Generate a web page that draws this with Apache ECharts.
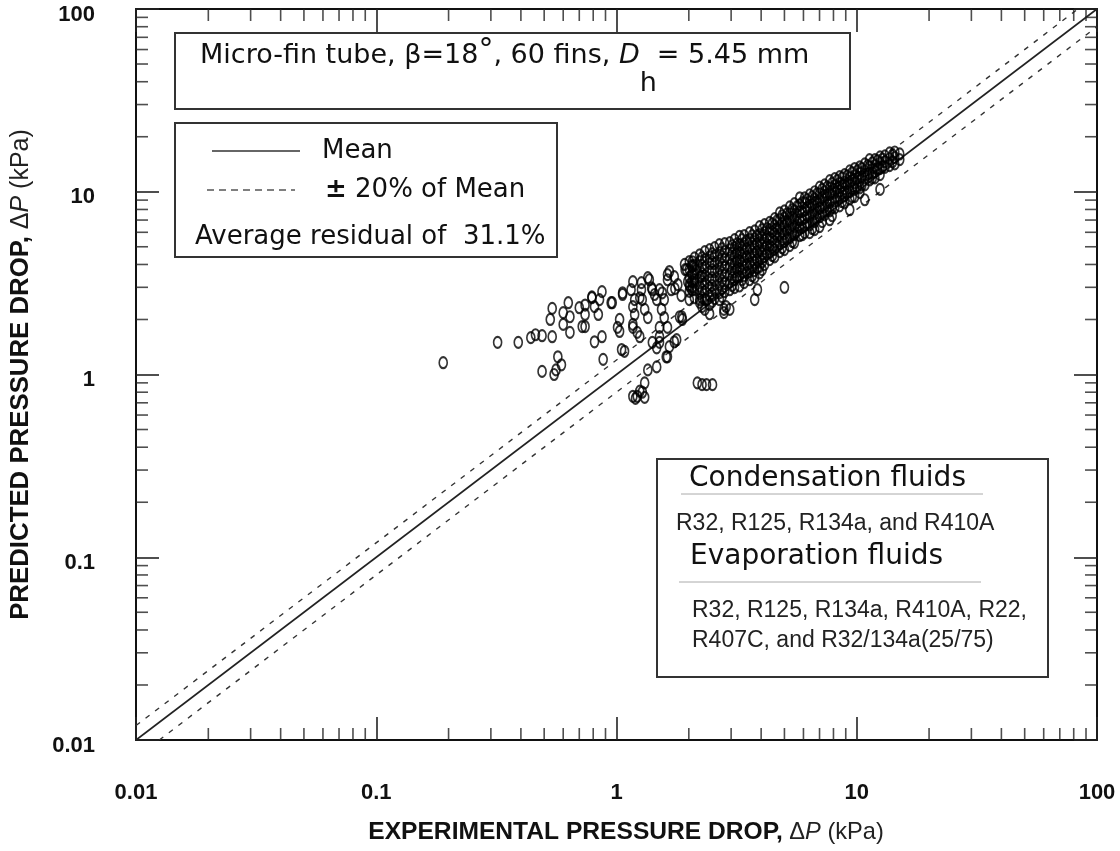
<!DOCTYPE html>
<html>
<head>
<meta charset="utf-8">
<script src="https://cdn.jsdelivr.net/npm/echarts@6/dist/echarts.min.js"></script>
<style>
  html, body { margin: 0; padding: 0; background: #fff; }
  #chart { width: 1120px; height: 851px; }
</style>
</head>
<body>
<div id="chart"></div>
<script>
// axis
const tickLabels = ['0.01', '0.1', '1', '10', '100']
const minorTickValues = [
  0.02, 0.03, 0.04, 0.05, 0.06, 0.07, 0.08, 0.09,
  0.2, 0.3, 0.4, 0.5, 0.6, 0.7, 0.8, 0.9,
  2, 3, 4, 5, 6, 7, 8, 9,
  20, 30, 40, 50, 60, 70, 80, 90
]

// reference lines (mean and +-20%)
const meanLine = [[0.01, 0.01], [100, 100]]
const upperLine = [[0.01, 0.012], [83.3, 100]]
const lowerLine = [[0.0125, 0.01], [100, 80]]

// scattered points [experimental, predicted] kPa
const sparsePoints = [
  [0.19, 1.16], [0.32, 1.5], [0.39, 1.5], [0.44, 1.59], [0.46, 1.65], [0.49, 1.63], [0.54, 1.61],
  [0.54, 2.3], [0.53, 2.0], [0.60, 2.18], [0.63, 2.47], [0.64, 2.07], [0.70, 2.32], [0.74, 2.4],
  [0.72, 1.83], [0.64, 1.7], [0.60, 1.88], [0.57, 1.25], [0.59, 1.13], [0.49, 1.04], [0.55, 1.0], [0.56, 1.06],
  [0.74, 2.13], [0.74, 1.83], [0.79, 2.63], [0.81, 2.35], [0.84, 2.13], [0.87, 2.84], [0.85, 2.57],
  [0.95, 2.47], [0.81, 1.51], [0.87, 1.61], [0.88, 1.21],
  [1.03, 2.0], [1.01, 1.81], [1.03, 1.72], [1.05, 1.37], [1.06, 2.74], [1.08, 1.34], [1.15, 2.91],
  [1.17, 3.22], [1.19, 2.57], [1.17, 2.35], [1.19, 2.13], [1.17, 1.88], [1.22, 1.7], [1.17, 1.81],
  [1.27, 2.91], [1.28, 2.57], [1.31, 2.27], [1.35, 2.05], [1.27, 3.18], [1.37, 3.3], [1.40, 2.98],
  [1.44, 2.74], [1.47, 2.57], [1.51, 2.91], [1.55, 2.8], [1.58, 2.57], [1.66, 3.66], [1.63, 3.3],
  [1.74, 3.43], [1.69, 2.91], [1.54, 2.27], [1.58, 2.05], [1.51, 1.81], [1.63, 1.81], [1.51, 1.61],
  [1.51, 1.5], [1.47, 1.40], [1.63, 1.25], [1.66, 1.42], [1.74, 1.51], [1.87, 2.07], [1.93, 3.75],
  [1.98, 3.22], [2.07, 4.14], [2.15, 3.75], [2.11, 3.3], [2.02, 3.03], [2.25, 3.43],
  [1.35, 1.06], [1.47, 1.1], [1.31, 0.9], [1.28, 0.80], [1.17, 0.76], [1.22, 0.76], [1.31, 0.75],
  [1.25, 0.81], [1.20, 0.74],
  [2.17, 0.90], [2.27, 0.88], [2.37, 0.88], [2.51, 0.88],
  [2.8, 2.27], [2.86, 2.35], [2.27, 2.35], [2.37, 2.57], [2.22, 2.57], [2.8, 2.18],
  [0.79, 2.66], [0.96, 2.47], [1.06, 2.8], [1.25, 2.63], [1.35, 3.39], [1.41, 2.91], [1.63, 3.52],
  [1.96, 3.75], [2.07, 3.9], [2.07, 3.03],
  [1.25, 1.61], [1.41, 1.5], [1.61, 1.25], [1.78, 1.55], [1.88, 2.0], [1.83, 2.07],
  [1.80, 3.1], [1.86, 2.7], [1.92, 4.0], [1.75, 2.95],
  [3.76, 2.57], [3.86, 2.91], [5.0, 3.0]
]

// dense band: experimental value of each column and predicted values in it
const bandExp = [
  2.01, 2.11, 2.22, 2.33, 2.44, 2.56, 2.68, 2.82, 2.96, 3.1, 3.25, 3.4, 3.58, 3.76, 3.94,
  4.13, 4.34, 4.55, 4.78, 5.0, 5.26, 5.5, 5.79, 6.07, 6.37, 6.68, 7.01, 7.35, 7.72, 8.1,
  8.49, 8.9, 9.35, 9.8, 10.3, 10.8, 11.3, 11.9, 12.5, 13.1, 13.7, 14.4, 15.1
]
const bandPred = [
  [4.15, 3.75, 3.4, 3.1, 2.85, 2.57],
  [4.35, 3.95, 3.55, 3.2, 2.91, 2.63],
  [4.52, 4.15, 3.75, 3.4, 3.05, 2.77, 2.48],
  [4.7, 4.25, 3.85, 3.47, 3.14, 2.84, 2.57, 2.27],
  [4.82, 4.4, 4.05, 3.65, 3.3, 2.99, 2.7, 2.41, 2.15],
  [4.95, 4.46, 4.05, 3.65, 3.26, 2.91, 2.6],
  [5.13, 4.64, 4.2, 3.8, 3.43, 3.1, 2.8, 2.57],
  [5.2, 4.7, 4.25, 3.85, 3.47, 3.14, 2.84],
  [5.27, 4.82, 4.35, 3.95, 3.55, 3.2, 2.91, 2.27],
  [5.47, 4.95, 4.46, 4.05, 3.65, 3.3, 2.99],
  [5.7, 5.13, 4.64, 4.2, 3.8, 3.43, 3.05],
  [5.76, 5.2, 4.7, 4.25, 3.85, 3.47, 3.18],
  [5.98, 5.47, 4.95, 4.46, 4.05, 3.65, 3.3],
  [6.1, 5.53, 5.0, 4.52, 4.1, 3.7, 3.4],
  [6.45, 5.82, 5.27, 4.76, 4.3, 3.9, 3.6],
  [6.6, 5.98, 5.4, 4.88, 4.4, 3.99],
  [6.8, 6.2, 5.6, 5.07, 4.64, 4.25],
  [7.13, 6.52, 5.9, 5.33, 4.82, 4.4],
  [7.67, 7.03, 6.35, 5.76, 5.2, 4.7],
  [7.86, 7.2, 6.52, 5.9, 5.33, 4.82],
  [8.27, 7.57, 6.86, 6.2, 5.6, 5.07],
  [8.6, 7.86, 7.13, 6.45, 5.82, 5.27],
  [9.27, 8.49, 7.77, 7.03, 6.35, 5.76],
  [9.27, 8.7, 7.97, 7.2, 6.52, 5.98],
  [9.63, 8.8, 8.1, 7.3, 6.6, 5.98],
  [10.0, 9.15, 8.38, 7.57, 6.86, 6.2],
  [10.6, 9.75, 8.9, 8.1, 7.3, 6.45],
  [10.9, 10.0, 9.15, 8.27, 7.48],
  [11.5, 10.5, 9.63, 8.7, 7.86, 7.03],
  [11.8, 10.8, 9.9, 8.9, 8.17],
  [12.1, 11.1, 10.1, 9.27, 8.38],
  [12.4, 11.3, 10.4, 9.5, 8.7],
  [13.0, 11.9, 10.9, 10.0, 9.15, 7.97],
  [13.4, 12.2, 11.2, 10.3, 9.4],
  [13.7, 12.6, 11.5, 10.5, 9.9],
  [14.2, 13.0, 11.9, 10.9, 9.04],
  [15.0, 13.7, 12.6, 11.6],
  [15.0, 13.9, 12.9, 11.9],
  [15.5, 14.4, 13.4, 12.4, 10.3],
  [15.7, 14.6, 13.6],
  [16.3, 15.2, 13.9],
  [16.5, 15.4, 14.2],
  [16.1, 15.0]
]

// second pass over the band, columns in between
const bandExp2 = [
  2.06, 2.27, 2.50, 2.75, 3.03, 3.33, 3.67, 4.04, 4.45, 4.89, 5.39,
  5.93, 6.53, 7.18, 7.90, 8.70, 9.57, 10.5, 11.6, 12.8, 14.1
]
const bandPred2 = [
  [3.94, 3.56, 3.22, 2.91],
  [4.36, 3.94, 3.56, 3.22, 2.91, 2.63],
  [4.58, 4.14, 3.75, 3.39, 3.07, 2.77, 2.51],
  [4.88, 4.41, 3.99, 3.61, 3.26, 2.95, 2.67],
  [5.07, 4.58, 4.14, 3.75, 3.39, 3.07],
  [5.47, 4.94, 4.47, 4.04, 3.65, 3.30],
  [5.75, 5.20, 4.70, 4.25, 3.84, 3.47],
  [6.20, 5.60, 5.07, 4.58, 4.14, 3.75],
  [6.68, 6.04, 5.47, 4.94, 4.47],
  [7.39, 6.68, 6.04, 5.47, 4.94],
  [7.98, 7.21, 6.52, 5.90, 5.33],
  [8.71, 7.78, 7.03, 6.36, 5.82],
  [9.39, 8.49, 7.67, 6.94, 6.28],
  [10.3, 9.27, 8.38, 7.58, 6.86],
  [11.1, 10.0, 9.04, 8.18, 7.39],
  [11.9, 10.8, 9.75, 8.82],
  [12.7, 11.5, 10.4, 9.39],
  [13.4, 12.1, 10.9],
  [14.4, 12.7, 11.9],
  [15.1, 13.7],
  [15.9, 14.6]
]

// third pass, the solid core of the band
const bandExp3 = [
  3.18, 3.49, 3.85, 4.23, 4.66, 5.13, 5.65, 6.21, 6.84, 7.53, 8.29, 9.13, 10.05, 11.1, 12.2
]
const bandPred3 = [
  [5.20, 4.70, 4.25, 3.84, 3.47],
  [5.40, 4.88, 4.41, 3.99, 3.61],
  [5.75, 5.20, 4.70, 4.25, 3.84],
  [6.28, 5.68, 5.13, 4.64],
  [6.94, 6.28, 5.68, 5.13],
  [7.58, 6.86, 6.20, 5.61],
  [8.28, 7.48, 6.77, 6.12],
  [9.04, 8.18, 7.39, 6.68],
  [9.75, 8.82, 7.98, 7.21],
  [10.6, 9.63, 8.71, 7.87],
  [11.5, 10.4, 9.39],
  [12.2, 11.1, 10.0],
  [13.0, 11.8, 10.6],
  [13.9, 12.5],
  [14.8, 13.4]
]

const bandPoints = []
const addBand = (xs, ys) => {
  xs.forEach((x, i) => {
    ys[i].forEach(y => bandPoints.push([x, y]))
  })
}
addBand(bandExp, bandPred)
addBand(bandExp2, bandPred2)
addBand(bandExp3, bandPred3)

const labelFont = 'Liberation Sans, Arial, sans-serif'
const boxFont = 'DejaVu Sans, sans-serif'
const ellipse = 'path://M0,5A4,5,0,1,1,8,5A4,5,0,1,1,0,5Z'

const chart = echarts.init(document.getElementById('chart'))

const xTickFormatter = v => tickLabels[Math.round(Math.log10(v)) + 2]
const yTickFormatter = v => '{t|' + tickLabels[Math.round(Math.log10(v)) + 2] + '}'

const baseAxis = {
  type: 'log',
  logBase: 10,
  min: 0.01,
  max: 100,
  axisLine: { show: true, onZero: false, lineStyle: { color: '#111', width: 2 } },
  axisTick: { show: true, inside: true, length: 23, lineStyle: { color: '#222', width: 1.6 } },
  splitLine: { show: false },
  minorTick: { show: false }
}

const titleRich = (bs, rs) => ({
  b: { fontFamily: labelFont, fontWeight: 'bold', fontSize: bs, color: '#111' },
  r: { fontFamily: labelFont, fontWeight: 'normal', fontSize: rs, color: '#222' },
  i: { fontFamily: labelFont, fontWeight: 'normal', fontStyle: 'italic', fontSize: rs, color: '#222' }
})

// minor ticks drawn as short marks on the four sides
const tickSeries = (data, size, offset) => ({
  type: 'scatter',
  data: data,
  symbol: 'rect',
  symbolSize: size,
  symbolOffset: offset,
  itemStyle: { color: '#222' },
  silent: true,
  clip: false,
  z: 3
})

const option = {
  animation: false,
  backgroundColor: '#fff',
  grid: { left: 136, right: 23, top: 9, bottom: 111, containLabel: false },
  xAxis: [
    Object.assign({}, baseAxis, {
      position: 'bottom',
      axisLabel: {
        show: true, margin: 42, formatter: xTickFormatter,
        fontFamily: labelFont, fontWeight: 'bold', fontSize: 22, color: '#111'
      },
      name: '{b|EXPERIMENTAL PRESSURE DROP,} {r|Δ}{i|P}{r| (kPa)}',
      nameLocation: 'middle',
      nameGap: 80,
      nameTextStyle: {
        fontFamily: labelFont, fontSize: 23.6, color: '#111', padding: [0, 0, 0, 19],
        rich: titleRich(24.6, 23.6)
      }
    }),
    Object.assign({}, baseAxis, {
      position: 'top',
      axisLabel: { show: false }
    })
  ],
  yAxis: [
    Object.assign({}, baseAxis, {
      position: 'left',
      axisLabel: {
        show: true, margin: 41, formatter: yTickFormatter,
        fontFamily: labelFont, fontWeight: 'bold', fontSize: 22, color: '#111',
        rich: {
          t: { fontFamily: labelFont, fontWeight: 'bold', fontSize: 22, color: '#111', padding: [11, 0, 0, 0] }
        }
      },
      name: '{b|PREDICTED PRESSURE DROP,} {r|Δ}{i|P}{r| (kPa)}',
      nameLocation: 'middle',
      nameGap: 102,
      nameTextStyle: { fontFamily: labelFont, fontSize: 25, color: '#111', rich: titleRich(25.8, 25) }
    }),
    Object.assign({}, baseAxis, {
      position: 'right',
      axisLabel: { show: false }
    })
  ],
  series: [
    {
      name: 'Mean',
      type: 'line',
      data: meanLine,
      showSymbol: false,
      lineStyle: { color: '#222', width: 1.6 },
      silent: true,
      z: 2
    },
    {
      name: '+20%',
      type: 'line',
      data: upperLine,
      showSymbol: false,
      lineStyle: { color: '#333', width: 1.4, type: [5, 7] },
      silent: true,
      z: 2
    },
    {
      name: '-20%',
      type: 'line',
      data: lowerLine,
      showSymbol: false,
      lineStyle: { color: '#333', width: 1.4, type: [5, 7] },
      silent: true,
      z: 2
    },
    {
      name: 'data',
      type: 'scatter',
      data: sparsePoints.concat(bandPoints),
      symbol: ellipse,
      symbolSize: [8, 11],
      itemStyle: { color: 'rgba(0,0,0,0)', borderColor: '#000', borderWidth: 1.9 },
      silent: true,
      z: 4
    },
    tickSeries(minorTickValues.map(v => [v, 0.01]), [1.6, 12], [0, -6]),
    tickSeries(minorTickValues.map(v => [v, 100]), [1.6, 12], [0, 6]),
    tickSeries(minorTickValues.map(v => [0.01, v]), [12, 1.6], [6, 0]),
    tickSeries(minorTickValues.map(v => [100, v]), [12, 1.6], [-6, 0])
  ],
  graphic: [
    // header box
    {
      type: 'rect', z: 10,
      shape: { x: 175, y: 33, width: 675, height: 76 },
      style: { fill: '#fff', stroke: '#333', lineWidth: 2 }
    },
    {
      type: 'text', z: 11,
      style: {
        x: 200, y: 56,
        text: 'Micro-fin tube, β=18{sup|°}, 60 fins, {it|D}{sub|h}= 5.45 mm',
        fontFamily: boxFont, fontSize: 27, fill: '#111',
        textAlign: 'left', textVerticalAlign: 'middle', align: 'left', verticalAlign: 'middle',
        rich: {
          sup: { fontFamily: boxFont, fontSize: 30, padding: [0, 0, 10, 0] },
          it: { fontFamily: boxFont, fontSize: 27, fontStyle: 'italic' },
          sub: { fontFamily: boxFont, fontSize: 27, padding: [56, 0, 0, 0] }
        }
      }
    },
    // legend box
    {
      type: 'rect', z: 10,
      shape: { x: 175, y: 123, width: 382, height: 134 },
      style: { fill: '#fff', stroke: '#333', lineWidth: 2 }
    },
    {
      type: 'line', z: 11,
      shape: { x1: 212, y1: 151, x2: 300, y2: 151 },
      style: { stroke: '#333', lineWidth: 1.6 }
    },
    {
      type: 'text', z: 11,
      style: {
        x: 322, y: 151, text: 'Mean', fontFamily: boxFont, fontSize: 26, fill: '#111',
        textAlign: 'left', textVerticalAlign: 'middle', align: 'left', verticalAlign: 'middle'
      }
    },
    {
      type: 'line', z: 11,
      shape: { x1: 207, y1: 190, x2: 295, y2: 190 },
      style: { stroke: '#555', lineWidth: 1.4, lineDash: [7, 5] }
    },
    {
      type: 'text', z: 11,
      style: {
        x: 325, y: 190, text: '{pm|±} 20% of Mean', fontFamily: boxFont, fontSize: 26, fill: '#111',
        textAlign: 'left', textVerticalAlign: 'middle', align: 'left', verticalAlign: 'middle',
        rich: { pm: { fontFamily: boxFont, fontSize: 26, fontWeight: 'bold' } }
      }
    },
    {
      type: 'text', z: 11,
      style: {
        x: 195, y: 237, text: 'Average residual of  31.1%', fontFamily: boxFont, fontSize: 26, fill: '#111',
        textAlign: 'left', textVerticalAlign: 'middle', align: 'left', verticalAlign: 'middle'
      }
    },
    // fluids box
    {
      type: 'rect', z: 10,
      shape: { x: 657, y: 459, width: 391, height: 218 },
      style: { fill: '#fff', stroke: '#333', lineWidth: 2 }
    },
    {
      type: 'text', z: 11,
      style: {
        x: 689, y: 479, text: 'Condensation fluids', fontFamily: boxFont, fontSize: 28, fill: '#111',
        textAlign: 'left', textVerticalAlign: 'middle', align: 'left', verticalAlign: 'middle'
      }
    },
    {
      type: 'line', z: 11,
      shape: { x1: 681, y1: 494, x2: 983, y2: 494 },
      style: { stroke: '#aaa', lineWidth: 1 }
    },
    {
      type: 'text', z: 11,
      style: {
        x: 676, y: 524, text: 'R32, R125, R134a, and R410A', fontFamily: labelFont, fontSize: 23, fill: '#222',
        textAlign: 'left', textVerticalAlign: 'middle', align: 'left', verticalAlign: 'middle'
      }
    },
    {
      type: 'text', z: 11,
      style: {
        x: 690, y: 557, text: 'Evaporation fluids', fontFamily: boxFont, fontSize: 28, fill: '#111',
        textAlign: 'left', textVerticalAlign: 'middle', align: 'left', verticalAlign: 'middle'
      }
    },
    {
      type: 'line', z: 11,
      shape: { x1: 679, y1: 582, x2: 981, y2: 582 },
      style: { stroke: '#aaa', lineWidth: 1 }
    },
    {
      type: 'text', z: 11,
      style: {
        x: 692, y: 611, text: 'R32, R125, R134a, R410A, R22,', fontFamily: labelFont, fontSize: 23, fill: '#222',
        textAlign: 'left', textVerticalAlign: 'middle', align: 'left', verticalAlign: 'middle'
      }
    },
    {
      type: 'text', z: 11,
      style: {
        x: 692, y: 641, text: 'R407C, and R32/134a(25/75)', fontFamily: labelFont, fontSize: 23, fill: '#222',
        textAlign: 'left', textVerticalAlign: 'middle', align: 'left', verticalAlign: 'middle'
      }
    }
  ]
}

chart.setOption(option)

window.addEventListener('resize', () => chart.resize())
</script>
</body>
</html>
